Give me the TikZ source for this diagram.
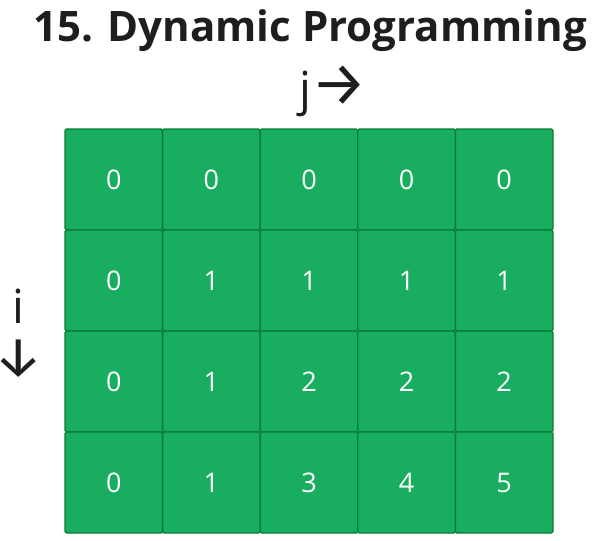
\documentclass[tikz,border=0pt]{standalone}
\usepackage{fontspec}
\setmainfont{Open Sans}
\newfontfamily\arrowfont{Fira Sans}
\definecolor{cellfill}{HTML}{18AD5F}
\definecolor{celledge}{HTML}{0B7A38}
\definecolor{ink}{HTML}{1E1E1E}
\begin{document}
\begin{tikzpicture}[x=1pt,y=-1pt,
  cell/.style={draw=celledge,fill=cellfill,line width=1.3pt,rounded corners=1.5pt,
    minimum width=97.6pt,minimum height=101pt,inner sep=0pt,outer sep=0pt,
    text=white,font=\fontsize{27}{30}\selectfont},
  lbl/.style={text=ink,inner sep=0pt}]
\useasboundingbox (0,0) rectangle (595,541);
\node[lbl,anchor=base,font=\fontsize{42}{48}\selectfont\bfseries] (title) at (310,41) {15. Dynamic Programming};
\node[lbl,anchor=base,font=\fontsize{47}{50}\selectfont] (jlab) at (333,105) {j{\arrowfont\fontsize{62}{64}\selectfont →}};
\node[lbl,anchor=base,font=\fontsize{47}{50}\selectfont] (ilab) at (18,323) {i};
\node[lbl,anchor=center,font=\fontsize{56}{58}\selectfont\arrowfont] (iarrow) at (19,359) {↓};
\foreach \r/\row in {0/{0,0,0,0,0},1/{0,1,1,1,1},2/{0,1,2,2,2},3/{0,1,3,4,5}}{
  \foreach \v [count=\c from 0] in \row {
    \node[cell] (c\r\c) at ({65+97.6*\c+48.8},{129+101*\r+50.5}) {\v};
  }
}
\end{tikzpicture}
\end{document}
